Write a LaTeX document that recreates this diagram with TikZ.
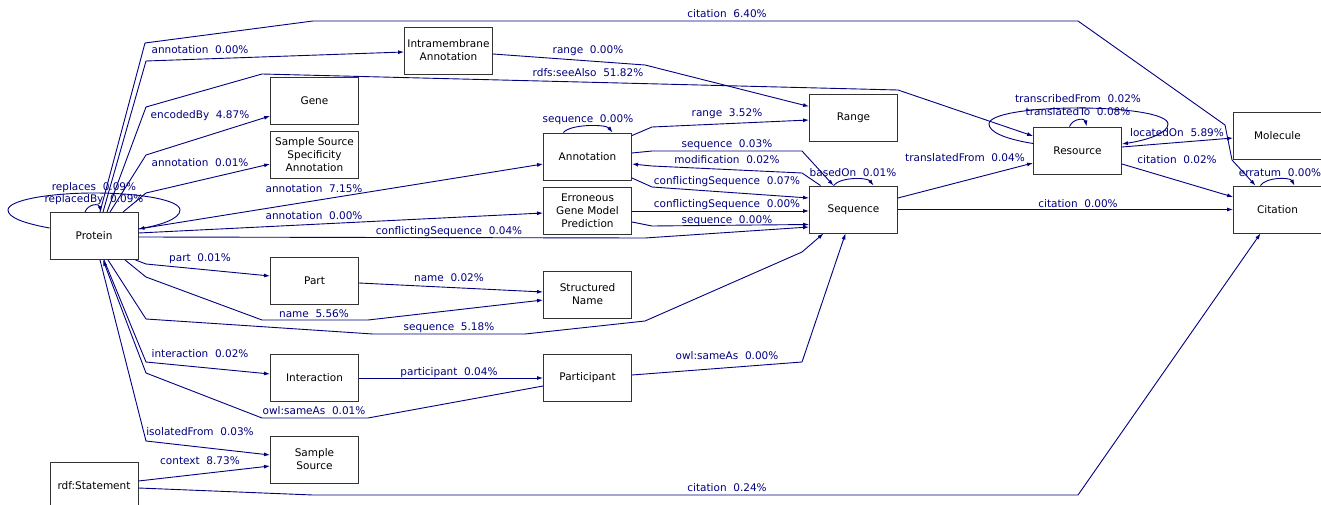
\documentclass[tikz,border=0pt]{standalone}
\usepackage{fontspec}
\setmainfont{DejaVu Sans}
\usetikzlibrary{calc,arrows.meta}
\definecolor{edgec}{HTML}{000080}
\tikzset{
  box/.style={draw=black!80, line width=0.9pt, minimum width=88pt, minimum height=47pt, inner sep=0pt, align=center, font=\fontsize{10.5}{13}\selectfont},
  lbl/.style={text=edgec, inner sep=0pt, anchor=base, font=\fontsize{10.5}{13}\selectfont},
  conn/.style={draw=edgec, line width=0.9pt, -{Latex[length=6pt,width=4pt]}},
}
\begin{document}
\begin{tikzpicture}[x=1pt,y=-1pt]
\useasboundingbox (0,0) rectangle (1321,505);
% nodes
\node[box] (protein) at (94,236) {Protein};
\node[box] (rdfst) at (94,485.5) {rdf:Statement};
\node[box] (gene) at (314.5,100.5) {Gene};
\node[box] (sssa) at (314.5,155) {Sample Source\\Specificity\\Annotation};
\node[box] (intra) at (448.5,50.5) {Intramembrane\\Annotation};
\node[box] (annot) at (587.5,156.5) {Annotation};
\node[box] (erron) at (587.5,211) {Erroneous\\Gene Model\\Prediction};
\node[box] (range) at (853.5,117.5) {Range};
\node[box] (seq) at (853.5,209.5) {Sequence};
\node[box] (res) at (1077.5,150.5) {Resource};
\node[box] (mol) at (1277.5,135.5) {Molecule};
\node[box] (cit) at (1277.5,209.5) {Citation};
\node[box] (part) at (314.5,280.5) {Part};
\node[box] (sname) at (587.5,294.5) {Structured\\Name};
\node[box] (inter) at (314.5,378) {Interaction};
\node[box] (partic) at (587.5,378) {Participant};
\node[box] (ss) at (314.5,459.5) {Sample\\Source};

% Protein edges going up
\draw[conn] ($(protein.north)+(6,0)$) -- (145,43) -- (313,21) -- (1078,21) -- (1225,125) -- (1232,160) -- ($(cit.north)+(-22,0)$);
\draw[conn] ($(protein.north)+(9,0)$) -- (146,61) -- ($(intra.west)+(0,1.5)$);
\draw[conn] ($(protein.north)+(13,0)$) -- (146,107) -- (262,74) -- (898,90) -- ($(res.west)+(0,-14.5)$);
\draw[conn] ($(protein.north)+(16,0)$) -- (146,155) -- ($(gene.west)+(0,15.5)$);
\draw[conn] ($(protein.north)+(29,0)$) -- (146,193) -- ($(sssa.west)+(0,9)$);
% Protein self loops
\draw[conn] ($(protein.west)+(0,-8)$) .. controls (22,223) and (8,217) .. (8,210)
  .. controls (8,200) and (50,193) .. (94,193)
  .. controls (140,193) and (180,200) .. (180,210)
  .. controls (180,219) and (160,225) .. ($(protein.east)+(0,-7)$);
\draw[conn] ($(protein.north)+(-9,0)$) .. controls (88,204) and (99,203) .. ($(protein.north)+(7,0)$);
% Protein right
\draw[conn] ($(protein.east)+(0,-7)$) -- ($(annot.west)+(0,7.5)$);
\draw[conn] ($(protein.east)+(0,-3)$) -- ($(erron.west)+(0,2)$);
\draw[conn] ($(protein.east)+(0,1)$) -- (645,238) -- ($(seq.west)+(0,17.5)$);
% Protein bottom
\draw[conn] ($(protein.south east)+(-3,0)$) -- (146,264) -- ($(part.west)+(0,-4.5)$);
\draw[conn] ($(protein.south)+(31,0)$) -- (146,277) -- (262,320) -- (368,320) -- ($(sname.west)+(0,5.5)$);
\draw[conn] ($(protein.south)+(14,0)$) -- (146,319) -- (373,334) -- (525,334) -- (645,321) -- (802,252) -- ($(seq.south)+(-30,0)$);
\draw[conn] ($(protein.south)+(10,0)$) -- (146,362) -- ($(inter.west)+(0,-4)$);
\draw[conn] ($(partic.west)+(0,8)$) -- (368,418) -- (262,418) -- (146,373) -- ($(protein.south)+(9,0)$);
\draw[conn] ($(protein.south)+(6,0)$) -- (146,441) -- ($(ss.west)+(0,-4.5)$);
% rdf:Statement
\draw[conn] ($(rdfst.east)+(0,-4.5)$) -- ($(ss.west)+(0,6.5)$);
\draw[conn] ($(rdfst.east)+(0,2.5)$) -- (313,495) -- (1078,495) -- ($(cit.south)+(-17,0)$);
% Intramembrane
\draw[conn] ($(intra.east)+(0,3.5)$) -- (645,65) -- ($(range.west)+(0,-11)$);
% Annotation
\draw[conn] ($(annot.north)+(-24,0)$) .. controls (570,124) and (606,124) .. ($(annot.north)+(25,0)$);
\draw[conn] ($(annot.north east)+(0,3)$) -- (652,127) -- ($(range.west)+(0,2.5)$);
\draw[conn] ($(annot.east)+(0,-3.5)$) -- (652,151) -- (802,151) -- ($(seq.north)+(-20,0)$);
\draw[conn] ($(seq.north)+(-33,0)$) -- (802,173) -- (652,166) -- ($(annot.east)+(0,7.5)$);
\draw[conn] ($(annot.east)+(0,21.5)$) -- (652,187) -- ($(seq.west)+(0,-11.5)$);
% Erroneous
\draw[conn] (erron.east) -- (seq.west |- erron.east);
\draw[conn] ($(erron.east)+(0,11)$) -- (652,226) -- ($(seq.west)+(0,15)$);
% Sequence
\draw[conn] ($(seq.north)+(-20,0)$) .. controls (840,177) and (867,177) .. ($(seq.north)+(20,0)$);
\draw[conn] ($(seq.east)+(0,-11.5)$) -- ($(res.west)+(0,12.5)$);
\draw[conn] (seq.east) -- (cit.west |- seq.east);
% Resource
\draw[conn] ($(res.west)+(0,-7)$) .. controls (1005,139) and (989,132) .. (989,124)
  .. controls (989,114) and (1030,108) .. (1078,108)
  .. controls (1126,108) and (1168,114) .. (1168,124)
  .. controls (1168,133) and (1148,140) .. ($(res.east)+(0,-6.5)$);
\draw[conn] ($(res.north)+(-8,0)$) .. controls (1073,118) and (1085,118) .. ($(res.north)+(9,0)$);
\draw[conn] ($(res.east)+(0,-3.5)$) -- ($(mol.west)+(0,2.5)$);
\draw[conn] ($(res.east)+(0,13.5)$) -- ($(cit.west)+(0,-12.5)$);
% Citation
\draw[conn] ($(cit.north)+(-17,0)$) .. controls (1266,177) and (1290,177) .. ($(cit.north)+(17,0)$);
% Part, Interaction, Participant
\draw[conn] ($(part.east)+(0,2.5)$) -- ($(sname.west)+(0,-2.5)$);
\draw[conn] (inter.east) -- (partic.west);
\draw[conn] ($(partic.east)+(0,-3)$) -- (802,362) -- ($(seq.south)+(-8,0)$);

% labels
\node[lbl] (l1) at (727,18) {citation\ \ 6.40\%};
\node[lbl] (l2) at (200,54) {annotation\ \ 0.00\%};
\node[lbl] (l3) at (588,77) {rdfs:seeAlso\ \ 51.82\%};
\node[lbl] (l4) at (200,119) {encodedBy\ \ 4.87\%};
\node[lbl] (l5) at (200,167) {annotation\ \ 0.01\%};
\node[lbl] (l6) at (94,190) {replaces\ \ 0.09\%};
\node[lbl] (l7) at (94,202) {replacedBy\ \ 0.09\%};
\node[lbl] (l8) at (314,192) {annotation\ \ 7.15\%};
\node[lbl] (l9) at (314,219) {annotation\ \ 0.00\%};
\node[lbl] (l10) at (449,234) {conflictingSequence\ \ 0.04\%};
\node[lbl] (l11) at (200,261) {part\ \ 0.01\%};
\node[lbl] (l12) at (314,317) {name\ \ 5.56\%};
\node[lbl] (l13) at (449,330) {sequence\ \ 5.18\%};
\node[lbl] (l14) at (200,357) {interaction\ \ 0.02\%};
\node[lbl] (l15) at (314,414) {owl:sameAs\ \ 0.01\%};
\node[lbl] (l16) at (200,435) {isolatedFrom\ \ 0.03\%};
\node[lbl] (l17) at (200,464) {context\ \ 8.73\%};
\node[lbl] (l18) at (727,491) {citation\ \ 0.24\%};
\node[lbl] (l19) at (588,54) {range\ \ 0.00\%};
\node[lbl] (l20) at (588,123) {sequence\ \ 0.00\%};
\node[lbl] (l21) at (727,117) {range\ \ 3.52\%};
\node[lbl] (l22) at (727,148) {sequence\ \ 0.03\%};
\node[lbl] (l23) at (727,164) {modification\ \ 0.02\%};
\node[lbl] (l24) at (727,184) {conflictingSequence\ \ 0.07\%};
\node[lbl] (l25) at (727,207) {conflictingSequence\ \ 0.00\%};
\node[lbl] (l26) at (727,223) {sequence\ \ 0.00\%};
\node[lbl] (l27) at (853,176) {basedOn\ \ 0.01\%};
\node[lbl] (l28) at (965,162) {translatedFrom\ \ 0.04\%};
\node[lbl] (l29) at (1078,207) {citation\ \ 0.00\%};
\node[lbl] (l30) at (1078,103) {transcribedFrom\ \ 0.02\%};
\node[lbl] (l31) at (1078,116) {translatedTo\ \ 0.08\%};
\node[lbl] (l32) at (1177,137) {locatedOn\ \ 5.89\%};
\node[lbl] (l33) at (1177,164) {citation\ \ 0.02\%};
\node[lbl] (l34) at (1280,176) {erratum\ \ 0.00\%};
\node[lbl] (l35) at (449,281) {name\ \ 0.02\%};
\node[lbl] (l36) at (449,375) {participant\ \ 0.04\%};
\node[lbl] (l37) at (727,359) {owl:sameAs\ \ 0.00\%};
\end{tikzpicture}
\end{document}
